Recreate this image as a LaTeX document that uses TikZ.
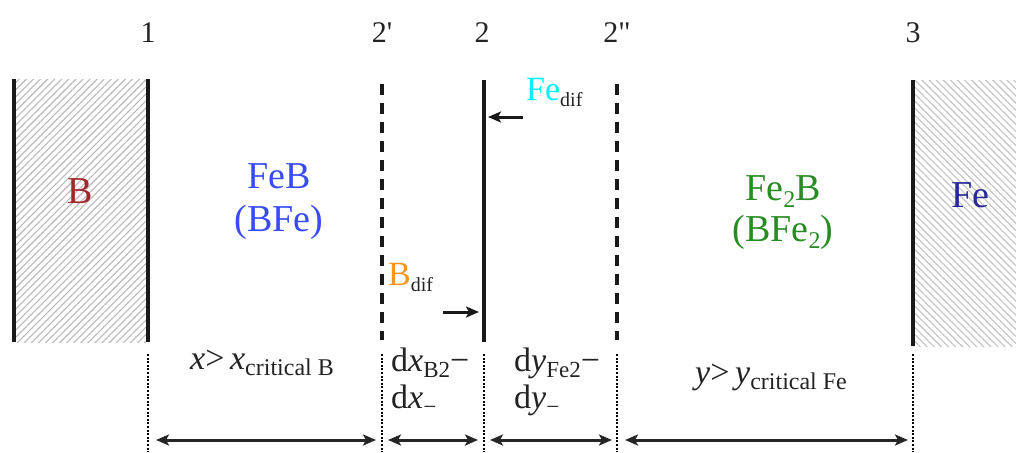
\documentclass[tikz,border=0pt]{standalone}
\usepackage{fontspec}
\setmainfont{Liberation Serif}[Ligatures=TeXOff]
\usetikzlibrary{patterns.meta,arrows.meta}
\definecolor{bred}{RGB}{160,40,40}
\definecolor{feblue}{RGB}{55,75,250}
\definecolor{fegreen}{RGB}{40,140,35}
\definecolor{fenavy}{RGB}{40,40,150}
\definecolor{fecyan}{RGB}{0,240,250}
\definecolor{borange}{RGB}{245,150,30}
\definecolor{txt}{RGB}{35,35,35}
\newcommand\lowsub[2]{\raisebox{-0.2em}{\fontsize{#1}{#1}\selectfont #2}}
\begin{document}
\begin{tikzpicture}[x=1pt,y=-1pt,
  solidline/.style={line width=3.6pt,black!90},
  dashline/.style={line width=3.6pt,black!90,dash pattern=on 11pt off 8pt},
  dotline/.style={line width=2.2pt,black,dash pattern=on 2pt off 1.6pt},
  dim/.style={line width=3pt,black!85,{Stealth[length=13pt,width=11pt,inset=3pt]}-{Stealth[length=13pt,width=11pt,inset=3pt]}},
  flux/.style={line width=3pt,black!90,-{Stealth[length=13pt,width=11pt,inset=3pt]}},
  num/.style={anchor=base,font=\fontsize{30}{30}\selectfont,text=txt,inner sep=0pt},
  reg/.style={anchor=base,font=\fontsize{38}{38}\selectfont,inner sep=0pt,align=center},
  lbl/.style={anchor=base west,font=\fontsize{34}{34}\selectfont,text=txt,inner sep=0pt}
]
\useasboundingbox (0,0) rectangle (1016,452);
% hatched regions
\fill[pattern={Lines[angle=45,distance=5pt,line width=1.1pt]},pattern color=black!28] (14,79) rectangle (148,342);
\fill[pattern={Lines[angle=-45,distance=5pt,line width=1.1pt]},pattern color=black!24] (913,80) rectangle (1016,346);
% coordinates
\coordinate (t0) at (14,79);   \coordinate (b0) at (14,342);
\coordinate (t1) at (148,79);  \coordinate (b1) at (148,342);
\coordinate (t2p) at (382,84); \coordinate (b2p) at (382,340);
\coordinate (t2) at (484,80);  \coordinate (b2) at (484,342);
\coordinate (t2pp) at (617,84);\coordinate (b2pp) at (617,340);
\coordinate (t3) at (913,80);  \coordinate (b3) at (913,346);
% boundary lines
\draw[solidline] (t0) -- (b0);
\draw[solidline] (t1) -- (b1);
\draw[dashline] (t2p) -- (b2p);
\draw[solidline] (t2) -- (b2);
\draw[dashline] (t2pp) -- (b2pp);
\draw[solidline] (t3) -- (b3);
% dotted extension lines
\coordinate (d1) at (148,354);  \coordinate (e1) at (148,452);
\coordinate (d2p) at (382,354); \coordinate (e2p) at (382,452);
\coordinate (d2) at (484,354);  \coordinate (e2) at (484,452);
\coordinate (d2pp) at (617,354);\coordinate (e2pp) at (617,452);
\coordinate (d3) at (913,354);  \coordinate (e3) at (913,452);
\draw[dotline] (d1) -- (e1);
\draw[dotline] (d2p) -- (e2p);
\draw[dotline] (d2) -- (e2);
\draw[dotline] (d2pp) -- (e2pp);
\draw[dotline] (d3) -- (e3);
% dimension arrows
\coordinate (a1) at (148,440);
\coordinate (a2p) at (382,440);
\coordinate (a2) at (484,440);
\coordinate (a2pp) at (617,440);
\coordinate (a3) at (913,440);
\draw[dim,shorten <=8pt,shorten >=6pt] (a1) -- (a2p);
\draw[dim,shorten <=6pt,shorten >=6pt] (a2p) -- (a2);
\draw[dim,shorten <=6pt,shorten >=5pt] (a2) -- (a2pp);
\draw[dim,shorten <=8pt,shorten >=5pt] (a2pp) -- (a3);
% top numbers
\node[num] (n1) at (148,42) {1};
\node[num] (n2p) at (382,42) {2'};
\node[num] (n2) at (482,42) {2};
\node[num] (n2pp) at (617,42) {2"};
\node[num] (n3) at (913,42) {3};
% region labels
\node[reg,text=bred] (lB) at (80,203) {B};
\node[reg,text=feblue] (lFeB) at (279,188) {FeB};
\node[reg,text=feblue] (lBFe) at (279,231) {(BFe)};
\node[reg,text=fegreen] (lFe2B) at (783,200) {Fe\lowsub{24}{2}B};
\node[reg,text=fegreen] (lBFe2) at (783,241) {(BFe\lowsub{24}{2})};
\node[reg,text=fenavy] (lFe) at (970,207) {Fe};
% diffusion fluxes
\node[anchor=base west,inner sep=0pt,font=\fontsize{34}{34}\selectfont] (fedif) at (526,100) {\textcolor{fecyan}{Fe}\lowsub{20}{\textcolor{txt}{dif}}};
\node[anchor=base west,inner sep=0pt,font=\fontsize{34}{34}\selectfont] (bdif) at (388,285) {\textcolor{borange}{B}\lowsub{20}{\textcolor{txt}{dif}}};
\coordinate (fs) at (523,117); \coordinate (fe) at (488,117);
\coordinate (bs) at (443,312); \coordinate (be) at (479,312);
\draw[flux] (fs) -- (fe);
\draw[flux] (bs) -- (be);
% bottom labels
\node[lbl] (lx) at (190,369) {\textit{x}>\,\textit{x}\lowsub{24}{critical B}};
\node[lbl] (ldx1) at (391,371) {d\textit{x}\lowsub{23}{B2}−};
\node[lbl] (ldx2) at (391,408) {d\textit{x}\lowsub{23}{−}};
\node[lbl] (ldy1) at (514,371) {d\textit{y}\lowsub{23}{Fe2}−};
\node[lbl] (ldy2) at (514,408) {d\textit{y}\lowsub{23}{−}};
\node[lbl] (ly) at (695,383) {\textit{y}>\,\textit{y}\lowsub{24}{critical Fe}};
\end{tikzpicture}
\end{document}
